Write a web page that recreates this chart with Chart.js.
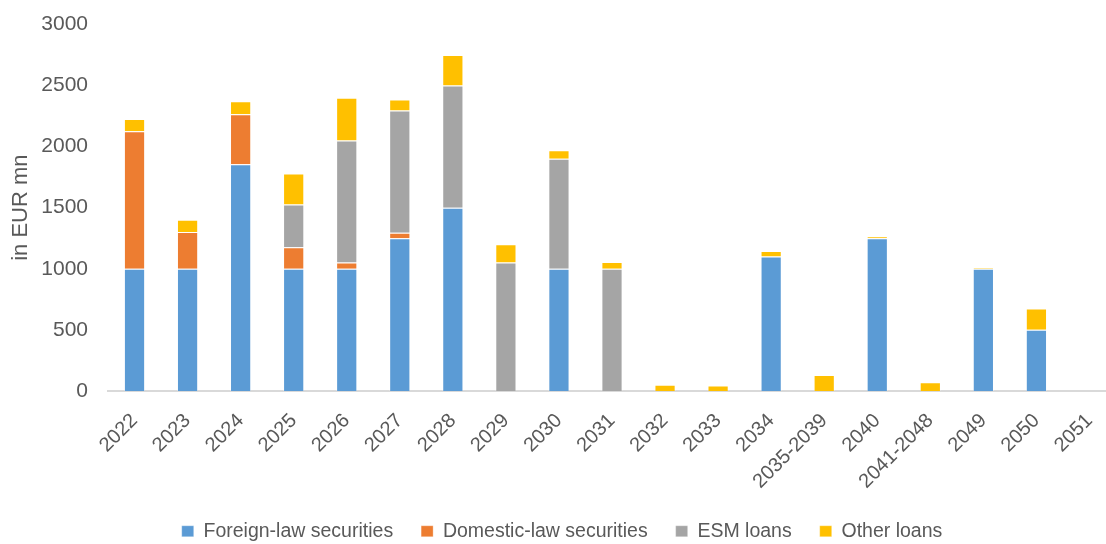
<!DOCTYPE html>
<html>
<head>
<meta charset="utf-8">
<script src="https://cdn.jsdelivr.net/npm/chart.js@4.4.1/dist/chart.umd.min.js"></script>
<style>
  html, body { margin: 0; padding: 0; background: #ffffff; overflow: hidden; }
  #wrap { position: relative; width: 1116px; height: 551px; }
</style>
</head>
<body>
<div id="wrap"><canvas id="chart"></canvas></div>
<script>
// Debt repayment profile by maturity year (EUR mn)
const categories = ['2022','2023','2024','2025','2026','2027','2028','2029','2030','2031','2032','2033','2034','2035-2039','2040','2041-2048','2049','2050','2051'];
const foreignLaw  = [1000, 1000, 1855, 1000, 1000, 1250, 1500,    0, 1000,    0,  0,  0, 1100,   0, 1250,  0, 1000, 500, 0];
const domesticLaw = [1125,  300,  410,  175,   50,   45,    0,    0,    0,    0,  0,  0,    0,   0,    0,  0,    0,   0, 0];
const esmLoans    = [   0,    0,    0,  350, 1000, 1000, 1000, 1050,  900, 1000,  0,  0,    0,   0,    0,  0,    0,   0, 0];
const otherLoans  = [ 100,  100,  105,  255,  350,   90,  250,  150,   70,   55, 50, 45,   45, 130,   15, 70,    8, 175, 0];
const yTicks = [0, 500, 1000, 1500, 2000, 2500, 3000];

const TEXT = '#595959';
const FONT = "'Liberation Sans', Arial, sans-serif";

function series(label, data, color) {
  return {
    label: label,
    data: data,
    backgroundColor: color,
    borderColor: 'rgba(255,255,255,0.3)',
    borderWidth: 1,
    borderSkipped: 'start',
    categoryPercentage: 1.0,
    barPercentage: 0.4
  };
}

new Chart(document.getElementById('chart'), {
  type: 'bar',
  data: {
    labels: categories,
    datasets: [
      series('Foreign-law securities', foreignLaw, '#5B9BD5'),
      series('Domestic-law securities', domesticLaw, '#ED7D31'),
      series('ESM loans', esmLoans, '#A5A5A5'),
      series('Other loans', otherLoans, '#FFC000')
    ]
  },
  options: {
    responsive: true,
    maintainAspectRatio: false,
    animation: false,
    layout: { padding: { top: 6, right: 0, bottom: 0, left: 8 } },
    plugins: {
      tooltip: { enabled: false },
      legend: {
        position: 'bottom',
        labels: {
          color: TEXT,
          font: { family: FONT, size: 19.5 },
          boxWidth: 12,
          boxHeight: 11,
          padding: 28
        }
      }
    },
    scales: {
      x: {
        stacked: true,
        grid: { display: false },
        border: { display: true, color: '#D9D9D9', width: 2 },
        ticks: {
          color: TEXT,
          font: { family: FONT, size: 20 },
          minRotation: 45,
          maxRotation: 45,
          autoSkip: false,
          padding: 10
        },
        afterFit: function (scale) {
          // slanted labels may hang past the plot edge; keep the plot full width
          scale.paddingLeft = 0;
          scale.paddingRight = 0;
          scale.height -= 10;
        }
      },
      y: {
        stacked: true,
        min: 0,
        max: 3000,
        afterBuildTicks: function (axis) {
          axis.ticks = yTicks.map(function (v) { return { value: v }; });
        },
        afterFit: function (scale) {
          // title + tick labels + gap
          scale.width = 100;
          scale.paddingTop = 24.4;
        },
        grid: { display: false, drawTicks: false },
        border: { display: false },
        ticks: {
          color: TEXT,
          font: { family: FONT, size: 21 },
          padding: 20,
          callback: function (v) { return String(v); }
        },
        title: {
          display: true,
          text: 'in EUR mn',
          color: TEXT,
          font: { family: FONT, size: 22 },
          padding: { top: 0, bottom: 7 }
        }
      }
    }
  }
});
</script>
</body>
</html>
